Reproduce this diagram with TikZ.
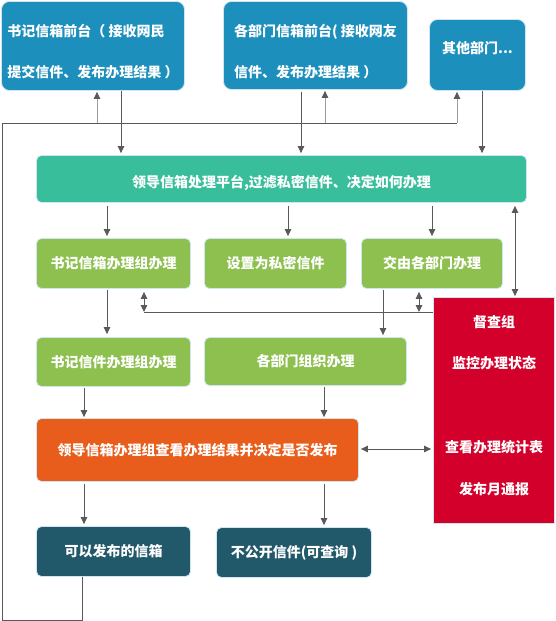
\documentclass[tikz,border=0pt]{standalone}
\usepackage{fontspec}
\setmainfont{Noto Sans CJK SC}
\usetikzlibrary{arrows.meta}
\definecolor{Qian}{HTML}{1D8FBC}
\definecolor{Ping}{HTML}{38BE9B}
\definecolor{Lv}{HTML}{8DC04F}
\definecolor{Cheng}{HTML}{E85D1B}
\definecolor{Hong}{HTML}{D2002A}
\definecolor{Shen}{HTML}{22596A}
\definecolor{Bian}{HTML}{CFE6EE}
\definecolor{Xian}{HTML}{595959}
\definecolor{QianXian}{HTML}{9C9C9C}

\begin{document}
\begin{tikzpicture}[x=1pt, y=-1pt,
		every node/.style={draw=Bian, line width=0.8pt, rounded corners=5pt, inner sep=0pt, text=white, align=center, font=\fontsize{14}{17}\selectfont\bfseries},
		qian/.style={fill=Qian, rounded corners=8pt, align=left, font=\fontsize{14}{41}\selectfont\bfseries},
		ping/.style={fill=Ping},
		lv/.style={fill=Lv},
		cheng/.style={fill=Cheng},
		shen/.style={fill=Shen},
		hong/.style={fill=Hong, sharp corners, font=\fontsize{14}{41.75}\selectfont\bfseries},
		xian/.style={draw=Xian, line width=1pt},
		huixian/.style={draw=QianXian, line width=1pt, -{Triangle[length=7pt,width=6.5pt,color=Xian]}},
		>={Triangle[length=7pt,width=6.5pt]}
		]
		\useasboundingbox (0,0) rectangle (555,621);

		\node[qian, minimum width=183pt, minimum height=89pt] (SQ) at (93,46) {\rule{0pt}{24pt}书记信箱前台（ 接收网民\\提交信件、发布办理结果 ）};
		\node[qian, minimum width=184pt, minimum height=88pt] (BQ) at (315.5,45.5) {\rule{0pt}{24pt}各部门信箱前台( 接收网友\\信件、发布办理结果 ）};
		\node[qian, minimum width=96pt, minimum height=71pt] (QT) at (477.5,55) {其他部门...\rule[-16pt]{0pt}{16pt}};
		\node[ping, minimum width=490pt, minimum height=47pt] (PT) at (281.5,179) {\rule{0pt}{20pt}领导信箱处理平台,过滤私密信件、决定如何办理};
		\node[lv, minimum width=154pt, minimum height=50pt] (SZ) at (113.5,263.5) {书记信箱办理组办理};
		\node[lv, minimum width=142pt, minimum height=50pt] (SM) at (275.5,263.5) {设置为私密信件};
		\node[lv, minimum width=141pt, minimum height=50pt] (JY) at (432,263.5) {交由各部门办理};
		\node[lv, minimum width=154pt, minimum height=49pt] (SX) at (113.5,362) {书记信件办理组办理};
		\node[lv, minimum width=202pt, minimum height=48pt] (BZ) at (305.5,361.5) {各部门组织办理};
		\node[cheng, minimum width=322pt, minimum height=63pt] (LD) at (197.5,450) {领导信箱办理组查看办理结果并决定是否发布};
		\node[shen, minimum width=154pt, minimum height=50pt] (FB) at (113.5,551.5) {可以发布的信箱};
		\node[shen, minimum width=155pt, minimum height=50pt] (BG) at (294,552.5) {不公开信件(可查询 )};
		\node[hong, minimum width=121pt, minimum height=226pt] (DC) at (494,410.5) {督查组\\监控办理状态\\[41.75pt]查看办理统计表\\发布月通报\rule[-12pt]{0pt}{12pt}};

		\coordinate (LB) at (2,620);
		\coordinate (LT) at (2,123);
		\coordinate (JD) at (144,312);

		\draw[xian] ([xshift=-31.5pt]FB.south) |- (LB) -- (LT) -- ([xshift=-20.5pt]QT.south |- LT);
		\draw[huixian, shorten >=1pt] ([xshift=4pt]SQ.south |- LT) -- ([xshift=4pt]SQ.south);
		\draw[huixian, shorten >=1pt] ([xshift=9.5pt]BQ.south |- LT) -- ([xshift=9.5pt]BQ.south);
		\draw[huixian, shorten >=1pt] ([xshift=-20.5pt]QT.south |- LT) -- ([xshift=-20.5pt]QT.south);

		\draw[->, xian, shorten >=2pt] ([xshift=28pt]SQ.south) -- ([xshift=28pt]SQ.south |- PT.north);
		\draw[->, xian, shorten <=2pt, shorten >=2pt] ([xshift=-14.5pt]BQ.south) -- ([xshift=-14.5pt]BQ.south |- PT.north);
		\draw[->, xian, shorten >=2pt] ([xshift=4.5pt]QT.south) -- ([xshift=4.5pt]QT.south |- PT.north);

		\draw[->, xian, shorten <=3pt, shorten >=2pt] ([xshift=-6.5pt]SZ.north |- PT.south) -- ([xshift=-6.5pt]SZ.north);
		\draw[->, xian, shorten <=3pt, shorten >=2pt] ([xshift=12.5pt]SM.north |- PT.south) -- ([xshift=12.5pt]SM.north);
		\draw[->, xian, shorten <=3pt, shorten >=2pt] (PT.south -| JY.north) -- (JY.north);
		\draw[<->, xian, shorten <=3pt, shorten >=1pt] ([xshift=21pt]DC.north |- PT.south) -- ([xshift=21pt]DC.north);

		\draw[->, xian, shorten <=1pt, shorten >=3pt] ([xshift=-6.5pt]SZ.south) -- ([xshift=-6.5pt]SX.north);
		\draw[->, xian, shorten <=1pt, shorten >=2pt] ([xshift=-49pt]JY.south) -- ([xshift=-49pt]JY.south |- BZ.north);
		\draw[xian] (JD) -- (JD -| DC.west);
		\draw[<->, xian, shorten <=3pt] (JD |- SZ.south) -- (JD);
		\draw[<->, xian, shorten <=3pt] ([xshift=-13pt]JY.south) -- ([xshift=-13pt]JY.south |- JD);

		\draw[->, xian, shorten <=1pt, shorten >=1pt] ([xshift=-29.5pt]SX.south) -- ([xshift=-29.5pt]SX.south |- LD.north);
		\draw[->, xian, shorten <=1pt, shorten >=1pt] ([xshift=18.5pt]BZ.south) -- ([xshift=18.5pt]BZ.south |- LD.north);
		\draw[<->, xian, shorten <=2pt, shorten >=2pt] ([yshift=1pt]LD.east) -- ([yshift=1pt]LD.east -| DC.west);
		\draw[->, xian, shorten <=2pt, shorten >=2pt] ([xshift=-29.5pt]LD.south -| FB.north) -- ([xshift=-29.5pt]FB.north);
		\draw[->, xian, shorten <=2pt, shorten >=2pt] ([xshift=30pt]LD.south -| BG.north) -- ([xshift=30pt]BG.north);
	\end{tikzpicture}
\end{document}
